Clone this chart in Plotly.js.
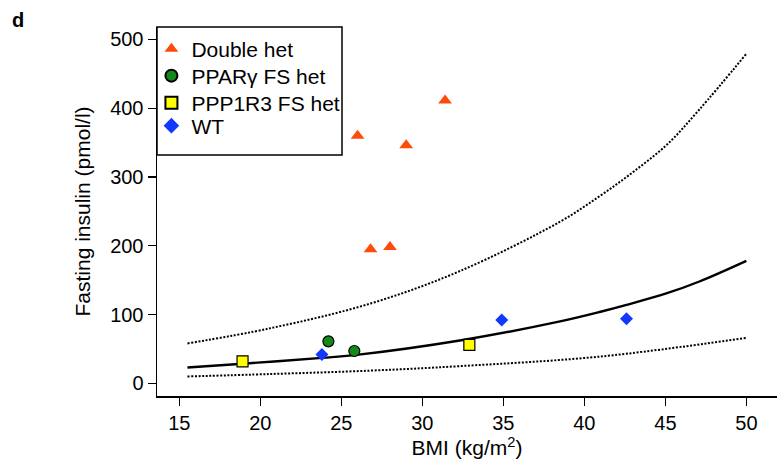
<!DOCTYPE html>
<html>
<head>
<meta charset="utf-8">
<script src="https://cdn.plot.ly/plotly-3.0.1.min.js"></script>
<style>
  html, body { margin: 0; padding: 0; background: #ffffff; }
  #chart { width: 777px; height: 467px; }
</style>
</head>
<body>
<div id="chart"></div>
<script>
// Fasting insulin against BMI by genotype group
const doubleHetBMI = [26.0, 26.8, 28.0, 29.0, 31.4];
const doubleHetInsulin = [360, 195, 198, 346, 411];

const pparBMI = [24.2, 25.8];
const pparInsulin = [61, 47];

const ppp1r3BMI = [18.9, 32.9];
const ppp1r3Insulin = [32, 56];

const wtBMI = [23.8, 34.9, 42.6];
const wtInsulin = [42, 92, 94];

// Reference curve (centre) with its dotted upper and lower limits
const midBMI = [15.5, 18.9, 23.8, 25.8, 32.5, 38.5, 41, 42.6, 45.1, 47.1, 50];
const midInsulin = [23, 28.5, 37, 41, 63, 90, 104, 114, 131, 148, 178];

const upperBMI = [15.5, 20.6, 26.8, 32.3, 38.5, 41, 43, 45.1, 47.1, 50];
const upperInsulin = [58, 80, 116, 163, 235, 273, 307, 347, 398, 479];

const lowerBMI = [15.5, 20.6, 26.8, 32.3, 41, 50];
const lowerInsulin = [10, 13.5, 18.5, 25, 39, 66];

const xTicks = [15, 20, 25, 30, 35, 40, 45, 50];
const yTicks = [0, 100, 200, 300, 400, 500];

const FONT = 'Liberation Sans, Arial, Helvetica, sans-serif';
const FS = 21;

const dotted = { color: '#000000', width: 2, dash: '2px,1.6px', shape: 'spline' };

const traces = [
  { x: upperBMI, y: upperInsulin, mode: 'lines', type: 'scatter', line: dotted, showlegend: false, hoverinfo: 'skip' },
  { x: lowerBMI, y: lowerInsulin, mode: 'lines', type: 'scatter', line: dotted, showlegend: false, hoverinfo: 'skip' },
  {
    x: midBMI, y: midInsulin, mode: 'lines', type: 'scatter',
    line: { color: '#000000', width: 2.4, shape: 'spline' },
    showlegend: false, hoverinfo: 'skip'
  },
  {
    name: 'Double het', x: doubleHetBMI, y: doubleHetInsulin,
    mode: 'markers', type: 'scatter', legend: 'legend',
    marker: { symbol: 'triangle-up', size: 12, color: '#ff4a0a' }
  },
  {
    name: 'PPAR\u03b3 FS het', x: pparBMI, y: pparInsulin,
    mode: 'markers', type: 'scatter', legend: 'legend2',
    marker: { symbol: 'circle', size: 11, color: '#15881a', line: { color: '#000000', width: 1.2 } }
  },
  {
    name: 'PPP1R3 FS het', x: ppp1r3BMI, y: ppp1r3Insulin,
    mode: 'markers', type: 'scatter', legend: 'legend3',
    marker: { symbol: 'square', size: 11, color: '#ffff00', line: { color: '#000000', width: 1.2 } }
  },
  {
    name: 'WT', x: wtBMI, y: wtInsulin,
    mode: 'markers', type: 'scatter', legend: 'legend4',
    marker: { symbol: 'diamond', size: 10, color: '#1238ff' }
  }
];

// one legend row per group, all sitting inside a single framed box
function legendRow(yPos) {
  return {
    x: -0.009, y: yPos, xanchor: 'left', yanchor: 'middle',
    bgcolor: 'rgba(0,0,0,0)', borderwidth: 0,
    font: { family: FONT, size: FS, color: '#000000' },
    itemsizing: 'constant'
  };
}

const layout = {
  width: 777, height: 467,
  margin: { l: 157, r: 0, t: 27, b: 71, pad: 0 },
  paper_bgcolor: '#ffffff', plot_bgcolor: '#ffffff',
  font: { family: FONT, color: '#000000', size: FS },
  showlegend: true,
  legend: legendRow(0.9404),
  legend2: legendRow(0.8672),
  legend3: legendRow(0.7940),
  legend4: legendRow(0.7317),
  shapes: [
    {
      type: 'rect', xref: 'paper', yref: 'paper',
      x0: 0, x1: 0.2984, y0: 0.653, y1: 1.0,
      line: { color: '#000000', width: 1.5 }, fillcolor: '#ffffff', layer: 'above'
    }
  ],
  xaxis: {
    range: [13.62, 51.89], tickvals: xTicks, ticktext: xTicks.map(String),
    ticks: 'outside', ticklen: 8, tickwidth: 1.2, tickcolor: '#000000',
    showline: true, linecolor: '#000000', linewidth: 1.5,
    showgrid: false, zeroline: false,
    tickfont: { family: FONT, size: FS - 1, color: '#000000' },
    title: { text: 'BMI (kg/m<sup>2</sup>)', font: { family: FONT, size: FS, color: '#000000' }, standoff: 8 }
  },
  yaxis: {
    range: [-18.4, 517.9], tickvals: yTicks, ticktext: yTicks.map(String),
    ticks: 'outside', ticklen: 8, tickwidth: 1.2, tickcolor: '#000000',
    showline: true, linecolor: '#000000', linewidth: 1.5,
    showgrid: false, zeroline: false,
    tickfont: { family: FONT, size: FS - 1, color: '#000000' },
    title: { text: 'Fasting insulin (pmol/l)', font: { family: FONT, size: FS, color: '#000000' }, standoff: 14 }
  },
  annotations: [
    {
      text: '<b>d</b>', xref: 'paper', yref: 'paper',
      x: -0.224, y: 1.019, xanchor: 'center', yanchor: 'middle',
      showarrow: false, font: { family: FONT, size: 20, color: '#000000' }
    }
  ]
};

Plotly.newPlot('chart', traces, layout, { displayModeBar: false, staticPlot: true });
</script>
</body>
</html>
